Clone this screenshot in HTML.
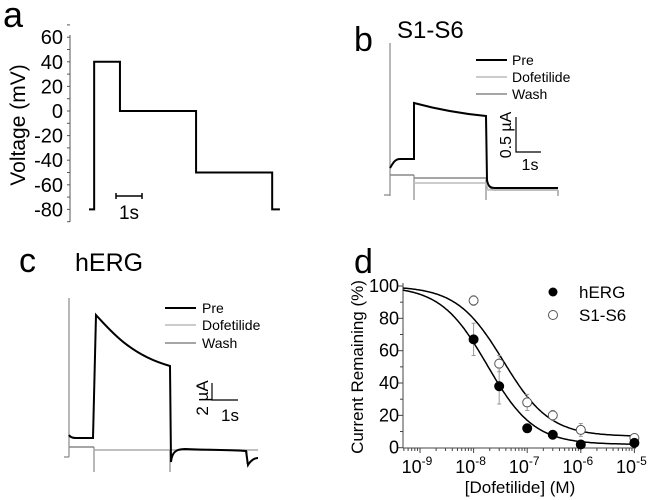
<!DOCTYPE html>
<html><head><meta charset="utf-8"><style>
html,body{margin:0;padding:0;background:#fff}
svg{display:block;font-family:"Liberation Sans",Arial,sans-serif}
</style></head><body>
<svg id="fig" width="656" height="500" viewBox="0 0 656 500">
<g>
<text x="3" y="27" font-size="36">a</text>
<g id="aAxis"></g>
<text transform="translate(25,125) rotate(-90)" text-anchor="middle" font-size="21">Voltage (mV)</text>
<path id="aTrace" fill="none" stroke="#000" stroke-width="2"/>
<path d="M116,193 V199 M116,196 H142 M142,193 V199" stroke="#000" stroke-width="1.5" fill="none"/>
<text x="129" y="219" text-anchor="middle" font-size="19">1s</text>
</g>
<g>
<text x="354" y="51" font-size="34">b</text>
<text x="397" y="38" font-size="24">S1-S6</text>
<path d="M390,43 V196 M384,195 H390 M414,175 V200 M486,180 V200 M558,190 V196" stroke="#888" stroke-width="1.2" fill="none"/>
<path d="M390,175 H414 M414,178 H486 C488,186 490,189 494,190 H558" stroke="#888" stroke-width="1.5" fill="none"/>
<path d="M414,183 H486 L488,190 H558" stroke="#bbb" stroke-width="1.5" fill="none"/>
<path d="M390,168 C393,163 395,159 400,159 H414 V103 C440,110 465,114 486,116 L487,180 C488,186 490,188 495,188 H558" stroke="#000" stroke-width="2" fill="none"/>
<g font-size="14">
<line x1="476" y1="60" x2="507" y2="60" stroke="#000" stroke-width="2"/><text x="512" y="65">Pre</text>
<line x1="476" y1="77" x2="507" y2="77" stroke="#bbb" stroke-width="1.5"/><text x="512" y="82">Dofetilide</text>
<line x1="476" y1="94" x2="507" y2="94" stroke="#888" stroke-width="1.5"/><text x="512" y="99">Wash</text>
</g>
<path d="M516,117 V152 H541" stroke="#000" stroke-width="1.2" fill="none"/>
<text transform="translate(511,135) rotate(-90)" text-anchor="middle" font-size="16">0.5 µA</text>
<text x="530" y="170" text-anchor="middle" font-size="16">1s</text>
</g>
<g>
<text x="19" y="272" font-size="34">c</text>
<text x="75" y="271" font-size="25">hERG</text>
<path d="M69,298 V457 M64,457 H69 M94,447 V472 M170,450 V472 M247,451 V464" stroke="#888" stroke-width="1.2" fill="none"/>
<path d="M69,447 H94 M94,450 H258" stroke="#888" stroke-width="1.5" fill="none"/>
<path d="M94,450 H258" stroke="#bbb" stroke-width="1" fill="none"/>
<path d="M69,435 C70,437 72,438 76,438 H93 L96,315 C110,330 130,355 170,366 L171,462 C172,452 176,449 185,449 C210,450 230,450 246,451 L248,465 C251,460 255,458 258,458" stroke="#000" stroke-width="2" fill="none"/>
<g font-size="14">
<line x1="165" y1="308" x2="196" y2="308" stroke="#000" stroke-width="2"/><text x="202" y="313">Pre</text>
<line x1="165" y1="325" x2="196" y2="325" stroke="#bbb" stroke-width="1.5"/><text x="202" y="330">Dofetilide</text>
<line x1="165" y1="343" x2="196" y2="343" stroke="#888" stroke-width="1.5"/><text x="202" y="348">Wash</text>
</g>
<path d="M212,383 V400 H238" stroke="#000" stroke-width="1.2" fill="none"/>
<text transform="translate(208,398) rotate(-90)" text-anchor="middle" font-size="17">2 µA</text>
<text x="230" y="421" text-anchor="middle" font-size="17">1s</text>
</g>
<g>
<text x="354" y="273" font-size="34">d</text>
<g id="dAxes"></g>
<g id="dCurves"></g>
<g id="dPoints"></g>
<text transform="translate(363,367) rotate(-90)" text-anchor="middle" font-size="17">Current Remaining (%)</text>
<text x="520" y="493" text-anchor="middle" font-size="17">[Dofetilide] (M)</text>
<g font-size="17">
<circle cx="553" cy="292" r="4.5" fill="#000"/><text x="579" y="298">hERG</text>
<circle cx="553" cy="315" r="4.5" fill="#fff" stroke="#555" stroke-width="1"/><text x="579" y="321">S1-S6</text>
</g>
</g>
</svg>
<script>
const NS="http://www.w3.org/2000/svg";
function mk(tag,attrs,parent){const e=document.createElementNS(NS,tag);for(const k in attrs)e.setAttribute(k,attrs[k]);parent.appendChild(e);return e;}
// ---- Panel a data ----
const aTicks=[60,40,20,0,-20,-40,-60,-80];
const aTimes=[0,0.2,1.2,4.15,7.1,7.4];
const aLevels=[-80,40,0,-50,-80];
const ay=v=>111-v*1.23;
const ax=t=>89+t*25.8;
const aAxis=document.getElementById('aAxis');
mk('line',{x1:70,y1:35,x2:70,y2:222,stroke:'#555','stroke-width':1},aAxis);
for(let v=70;v>=-90;v-=10){
const t=mk('line',{x1:67,y1:ay(v),x2:70,y2:ay(v),stroke:'#555','stroke-width':1},aAxis);


}
aTicks.forEach(v=>{
const t=mk('text',{x:63,y:ay(v)+7,'text-anchor':'end','font-size':20},aAxis);
t.textContent=v;


});
let d='M'+ax(aTimes[0])+','+ay(aLevels[0]);
for(let i=0;i<aLevels.length;i++){d+=' V'+ay(aLevels[i])+' H'+ax(aTimes[i+1]);}
document.getElementById('aTrace').setAttribute('d',d);
// ---- Panel d data ----
const concs=[1e-8,3e-8,1e-7,3e-7,1e-6,1e-5];
const hergMean=[67,38,12,8,2,3];
const hergErr=[10,11,1,1,1,1];
const s16Mean=[91,52,28,20,11,6];
const s16Err=[3,5,5,3,4,2];
const hergFit=[1.8e-8,1.0,2];
const s16Fit=[3.6e-8,1.0,7];
const xTickExp=[-9,-8,-7,-6,-5];
const yTicks=[0,20,40,60,80,100];
const dx=c=>420+(Math.log10(c)+9)*53.6;
const dy=v=>447.7-v*1.617;
const dAx=document.getElementById('dAxes');
mk('line',{x1:403,y1:283,x2:403,y2:448,stroke:'#444','stroke-width':1},dAx);
mk('line',{x1:403,y1:448,x2:636,y2:448,stroke:'#444','stroke-width':1},dAx);
for(let v=0;v<=100;v+=10){
const t=mk('line',{x1:v%20?400:398,y1:dy(v),x2:403,y2:dy(v),stroke:'#444','stroke-width':1},dAx);


}
yTicks.forEach(v=>{
const t=mk('text',{x:399,y:dy(v)+6,'text-anchor':'end','font-size':18},dAx);
t.textContent=v;


});
for(let e=-10;e<=-5;e++){for(let m=1;m<10;m++){
const c=m*Math.pow(10,e);const x=dx(c);
if(x<403||x>636)continue;
const t=mk('line',{x1:x,y1:448,x2:x,y2:m==1?453:451,stroke:'#444','stroke-width':1},dAx);


if(e==-5)break;}}
xTickExp.forEach(e=>{
const t=mk('text',{x:dx(Math.pow(10,e))-3,y:473,'text-anchor':'middle','font-size':18},dAx);


t.appendChild(document.createTextNode('10'));
const s=mk('tspan',{dy:-8,'font-size':12},t);s.textContent=String(e);
});
const dC=document.getElementById('dCurves');
[[hergFit,'herg-fit-curve'],[s16Fit,'s1s6-fit-curve']].forEach(([f,n])=>{
let p='';
for(let lx=-9.32;lx<=-5.0001;lx+=0.02){const c=Math.pow(10,lx);const v=f[2]+(100-f[2])/(1+Math.pow(c/f[0],f[1]));p+=(p?'L':'M')+dx(c).toFixed(1)+','+dy(v).toFixed(1);}
const e=mk('path',{d:p,fill:'none',stroke:'#000','stroke-width':1.5},dC);


});
const dP=document.getElementById('dPoints');
function series(means,errs,filled,name){concs.forEach((c,i)=>{
const x=dx(c),y=dy(means[i]);
const eb=mk('path',{d:`M${x-2},${dy(means[i]+errs[i])}H${x+2}M${x},${dy(means[i]+errs[i])}V${dy(means[i]-errs[i])}M${x-2},${dy(means[i]-errs[i])}H${x+2}`,stroke:'#999','stroke-width':1,fill:'none'},dP);


const p=mk('circle',{cx:x,cy:y,r:4.5,fill:filled?'#000':'#fff',stroke:filled?'#000':'#555','stroke-width':1},dP);


});}
series(s16Mean,s16Err,false,'s1s6');
series(hergMean,hergErr,true,'herg');
</script>
</body></html>
